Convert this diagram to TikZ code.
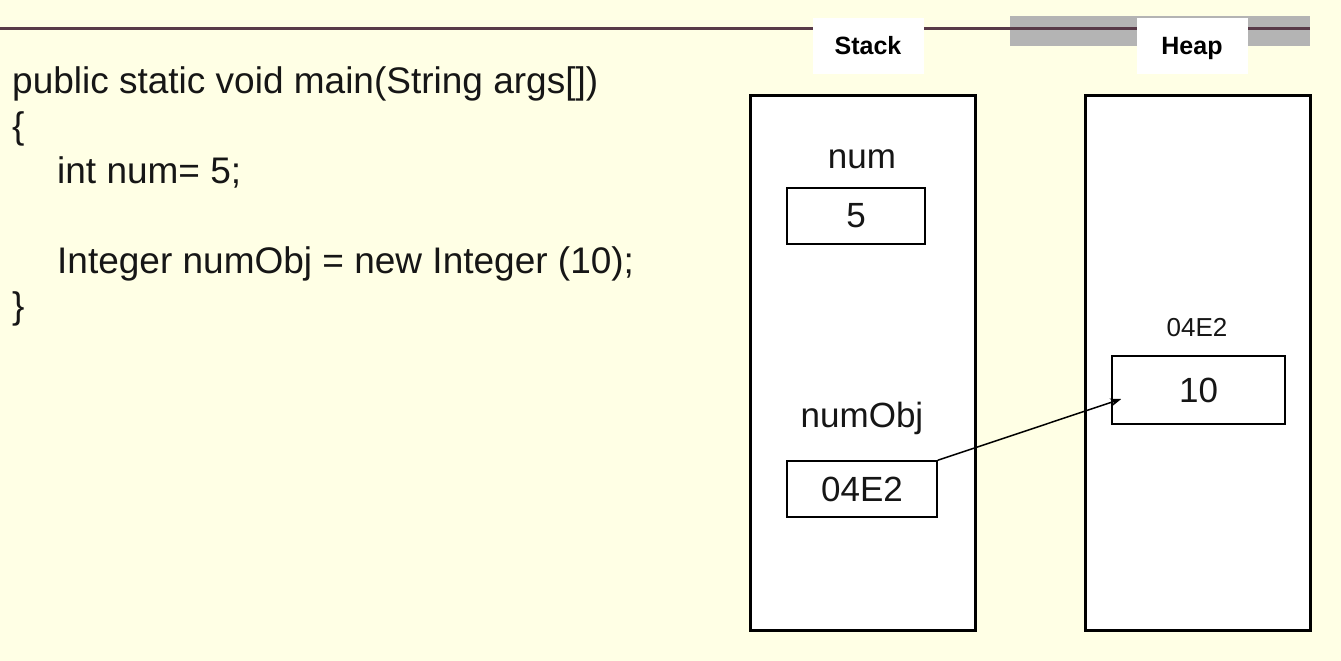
\documentclass[tikz,border=0pt]{standalone}
\usepackage{fontspec}
\setmainfont{Liberation Sans}
\usetikzlibrary{arrows.meta}
\definecolor{slidebg}{RGB}{255,255,229}
\definecolor{rulecol}{RGB}{88,58,72}
\definecolor{bandgray}{RGB}{180,180,180}
\definecolor{inkcol}{RGB}{22,22,22}
\tikzset{%
	mem frame/.style={
		draw,
		line width=3pt,
		fill=white,
		minimum width=225pt,
		minimum height=535pt
	},
	mem cell/.style={
		draw,
		line width=1.5pt,
		fill=white,
		inner sep=0pt,
		text=inkcol,
		font=\fontsize{35}{40}\selectfont
	},
	mem label/.style={
		inner sep=0pt,
		anchor=base,
		text=inkcol,
		font=\fontsize{35}{40}\selectfont
	},
	area tab/.style={
		fill=white,
		minimum width=111pt,
		minimum height=56pt,
		text height=18pt,
		text depth=0pt,
		font=\bfseries\fontsize{25}{30}\selectfont
	},
	code line/.style={
		anchor=base west,
		inner sep=0pt,
		text=inkcol,
		font=\fontsize{37}{44}\selectfont
	},
}

\begin{document}
\begin{tikzpicture}[x=1pt, y=-1pt, >={Stealth[length=11pt, width=8pt]}]
	
	\useasboundingbox[fill=slidebg] (0,0) rectangle (1341,661);
	\fill[bandgray] (1010,16) rectangle (1310,46);
	\draw[rulecol, line width=3pt] (0,29) -- (1310,29);
	
	\foreach \n/\x in {Stack/868, Heap/1192}
	\node[area tab] (tab-\n) at (\x,46) {\n};
	
	\foreach \n/\x in {stack/862.5, heap/1197.5}
	\node[mem frame] (\n) at (\x,362.5) {};
	
	\foreach \x/\y/\t [count=\i] in {12/93/{public static void main(String args[])}, 12/138/\{, 57/183/{int num= 5;}, 57/273/{Integer numObj = new Integer (10);}, 12/318/\}}
	\node[code line] (code-\i) at (\x,\y) {\t};
	
	\node[mem cell, minimum width=138pt, minimum height=56pt] (num-val) at (856,216) {5};
	\node[mem cell, minimum width=150pt, minimum height=56pt] (obj-ref) at (862,489) {04E2};
	\node[mem cell, minimum width=173pt, minimum height=68pt] (obj-val) at (1198.5,390) {10};
	
	\node[mem label] (num-name) at (862,168) {num};
	\node[mem label] (obj-name) at (862,427) {numObj};
	\node[mem label, font=\fontsize{26}{30}\selectfont] (obj-addr) at (1197,336) {04E2};
	
	\draw[->, line width=1.5pt] (obj-ref.north east) -- ([xshift=10pt, yshift=-9pt]obj-val.west);
	
\end{tikzpicture}
\end{document}
